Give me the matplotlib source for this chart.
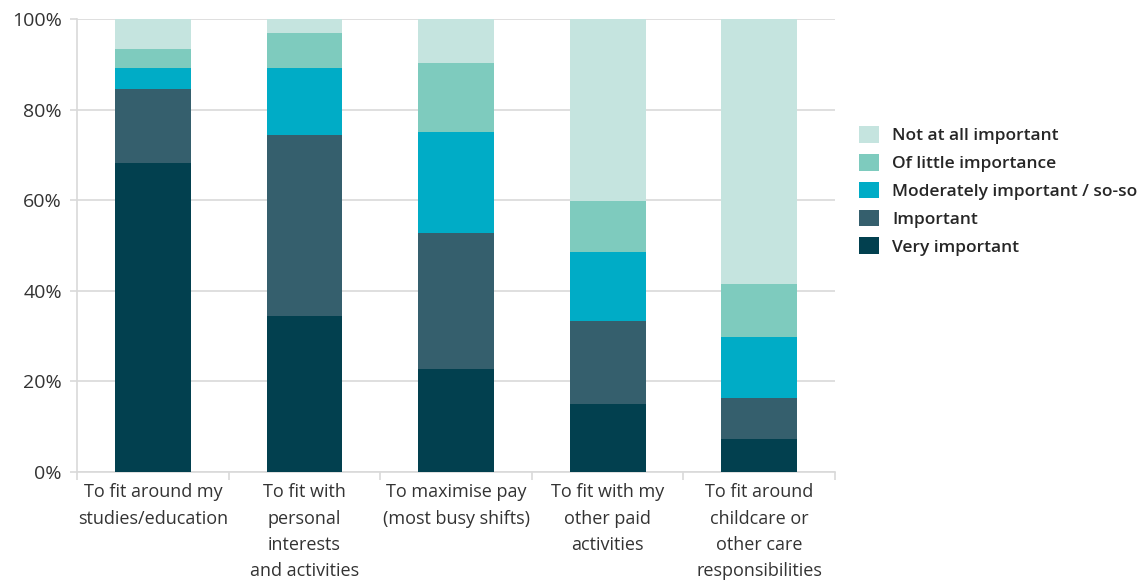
import numpy as np
import matplotlib.pyplot as plt
from matplotlib.ticker import FixedLocator, PercentFormatter

categories = [
    "To fit around my\nstudies/education",
    "To fit with\npersonal\ninterests\nand activities",
    "To maximise pay\n(most busy shifts)",
    "To fit with my\nother paid\nactivities",
    "To fit around\nchildcare or\nother care\nresponsibilities",
]
very_important = [68.1, 34.5, 22.7, 15.0, 7.3]
important = [16.4, 39.9, 30.1, 18.3, 9.0]
moderately = [4.7, 14.8, 22.3, 15.3, 13.5]
little = [4.2, 7.8, 15.2, 11.2, 11.7]
not_at_all = [6.6, 3.0, 9.7, 40.2, 58.5]

series_names = ["Very important", "Important", "Moderately important / so-so",
                "Of little importance", "Not at all important"]
colors = ["#02404F", "#355F6D", "#00ACC6", "#7ECBBE", "#C5E4DF"]

plt.rcParams["font.family"] = ["Open Sans", "DejaVu Sans"]

fig = plt.figure(figsize=(11.48, 5.82), dpi=100)
ax = fig.add_axes([0.0671, 0.189, 0.6603, 0.7784])

x = np.arange(len(categories))
bottom = np.zeros(len(categories))
handles = []
for vals, name, c in zip([very_important, important, moderately, little, not_at_all],
                         series_names, colors):
    h = ax.bar(x, vals, 0.5, bottom=bottom, color=c, label=name, zorder=3)
    handles.append(h)
    bottom += np.array(vals)

ax.set_xlim(-0.5, len(categories) - 0.5)
ax.set_ylim(0, 100)
ax.set_yticks(np.arange(0, 101, 20))
ax.yaxis.set_major_formatter(PercentFormatter(decimals=0))
ax.grid(axis="y", color="#D9D9D9", linewidth=1.2, zorder=0)

ax.set_xticks(x)
ax.set_xticklabels(categories, fontsize=13, color="#333333", linespacing=1.6)
ax.xaxis.set_minor_locator(FixedLocator(np.arange(-0.5, len(categories), 1)))
ax.tick_params(axis="x", which="major", length=0, pad=8)
ax.tick_params(axis="x", which="minor", length=6, color="#D9D9D9", width=1.2)
ax.tick_params(axis="y", length=5, color="#D9D9D9", width=1.2, labelsize=14,
               labelcolor="#333333", pad=6)

for side in ["top", "right"]:
    ax.spines[side].set_visible(False)
for side in ["left", "bottom"]:
    ax.spines[side].set_color("#D9D9D9")
    ax.spines[side].set_linewidth(1.2)

leg = fig.legend(handles[::-1], series_names[::-1], loc="upper left",
                 bbox_to_anchor=(0.735, 0.81), frameon=False,
                 prop={"size": 12.5, "weight": "semibold"},
                 handlelength=1.1, handleheight=1.1, handletextpad=0.8,
                 labelspacing=0.55)
for t in leg.get_texts():
    t.set_color("#262626")

fig.savefig("out.png", dpi=100)
